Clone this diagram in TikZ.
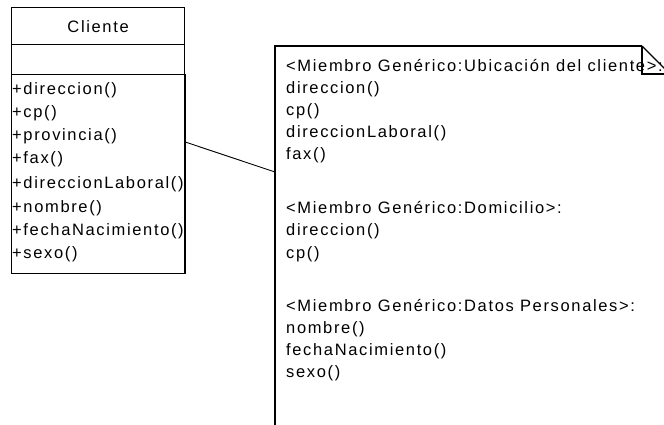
\documentclass[tikz,border=0pt]{standalone}
\usepackage{fontspec}
\setmainfont{Liberation Sans}[LetterSpace=10]
\begin{document}
\begin{tikzpicture}[x=1pt,y=-1pt,
  compartment/.style={draw=black,line width=1.2pt,inner sep=0pt,anchor=north west,minimum width=173pt},
  outline/.style={draw=black,line width=1.2pt},
  member/.style={anchor=base west,inner sep=0pt,font=\fontsize{16.5}{19}\selectfont},
  title/.style={inner sep=0pt,font=\fontsize{16.5}{19}\selectfont},
  link/.style={draw=black,line width=0.9pt}]
\useasboundingbox (0,0) rectangle (664,425);
\clip (0,0) rectangle (664,425);

% class Cliente: name, attribute and operation compartments
\node[compartment,minimum height=37pt] (head) at (11,7) {};
\node[compartment,minimum height=30pt] (attrs) at (11,44) {};
\node[compartment,minimum height=199pt] (ops) at (11,74) {};
\node[title] (name) at ([yshift=-1pt]head.center) {Cliente};

\node[member] (op1) at (12,95) {+direccion()};
\node[member] (op2) at (12,118) {+cp()};
\node[member] (op3) at (12,141) {+provincia()};
\node[member] (op4) at (12,164) {+fax()};
\node[member] (op5) at (12,188) {+direccionLaboral()};
\node[member] (op6) at (12,212) {+nombre()};
\node[member] (op7) at (12,235) {+fechaNacimiento()};
\node[member] (op8) at (12,258) {+sexo()};
% right border drawn again so that it covers the longest operation
\fill[white] (ops.north east) rectangle ([xshift=6pt]ops.south east);
\draw[outline] (ops.north east) -- (ops.south east);

% note with folded corner
\node[inner sep=0pt,anchor=north west,minimum width=400pt,minimum height=390pt] (note) at (275,46) {};

\node[member] (n1) at (286,71.5) {<Miembro Genérico:Ubicación del cliente>:};
\node[member] (n2) at (286,93.5) {direccion()};
\node[member] (n3) at (286,116) {cp()};
\node[member] (n4) at (286,138) {direccionLaboral()};
\node[member] (n5) at (286,160) {fax()};

\node[member] (n6) at (286,213) {<Miembro Genérico:Domicilio>:};
\node[member] (n7) at (286,235) {direccion()};
\node[member] (n8) at (286,258) {cp()};

\node[member] (n9) at (286,311) {<Miembro Genérico:Datos Personales>:};
\node[member] (n10) at (286,333) {nombre()};
\node[member] (n11) at (286,355) {fechaNacimiento()};
\node[member] (n12) at (286,377) {sexo()};

\draw[outline] (642,46) -- (note.north west) -- (note.south west);
\draw[outline] (642,46) -- (672,76);
\draw[outline] (642,46) -- (642,74) -- (672,74);

% attachment of the note to the class
\coordinate (from) at (ops.east |- 0,142);
\coordinate (to) at (note.west |- 0,172);
\draw[link] (from) -- (to);
\end{tikzpicture}
\end{document}
